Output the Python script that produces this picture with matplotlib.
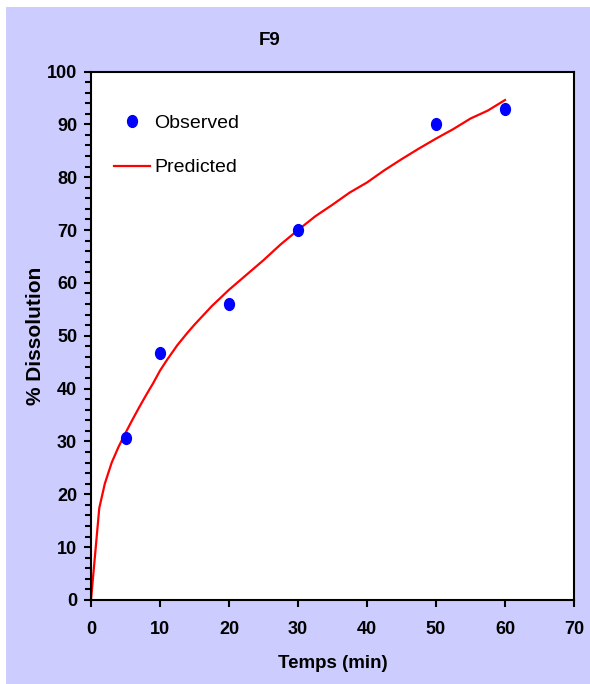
import matplotlib.pyplot as plt
import matplotlib.patches as mpatches
from matplotlib.path import Path
from matplotlib.ticker import MultipleLocator

plt.rcParams['font.family'] = ['Liberation Sans', 'DejaVu Sans']

# observed dissolution (%)
temps_obs = [5, 10, 20, 30, 50, 60]
diss_obs = [30.7, 46.8, 56.0, 70.1, 90.0, 92.9]

# predicted curve
temps_pred = [0, 1.2, 2, 3, 4, 5, 6, 7, 8, 9, 10, 11, 12.5, 14, 15, 17.5, 20, 22.5, 25,
              27.5, 30, 32.5, 35, 37.5, 40, 42.5, 45, 47.5, 50, 52.5, 55, 57.5, 60]
diss_pred = [0, 17.4, 22.0, 26.0, 29.0, 31.6, 34.1, 36.5, 38.8, 41.0, 43.4, 45.4,
             48.2, 50.6, 52.1, 55.6, 58.7, 61.5, 64.3, 67.3, 70.0, 72.6, 74.8, 77.1,
             79.0, 81.3, 83.4, 85.4, 87.3, 89.1, 91.1, 92.6, 94.6]

fig = plt.figure(figsize=(5.9, 6.84), dpi=100)
fig.patch.set_facecolor('white')
# lavender background panel
fig.patches.append(mpatches.Rectangle((6 / 590, 0), 1, 1 - 7 / 684,
                                      transform=fig.transFigure,
                                      facecolor='#CCCCFF', edgecolor='none', zorder=-1))

ax = fig.add_axes([91 / 590, 1 - 600 / 684, 483 / 590, 528.5 / 684])
ax.set_facecolor('white')

# slightly tall ellipse marker
circ = Path.unit_circle()
ellipse = Path(circ.vertices * [1.0, 1.2], circ.codes)

ax.plot(temps_obs, diss_obs, linestyle='none', marker=ellipse, markersize=8.5,
        color='#0000FF', label='Observed', zorder=3)
ax.plot(temps_pred, diss_pred, color='#FF0000', linewidth=1.6, label='Predicted', zorder=2)

ax.set_xlim(0, 70)
ax.set_ylim(0, 100)
ax.xaxis.set_major_locator(MultipleLocator(10))
ax.yaxis.set_major_locator(MultipleLocator(10))
ax.yaxis.set_minor_locator(MultipleLocator(2))

for s in ax.spines.values():
    s.set_linewidth(1.5)
    s.set_color('black')

ax.tick_params(axis='both', which='major', direction='out', length=5, width=1.5,
               labelsize=13)
ax.tick_params(axis='x', pad=10)
ax.tick_params(axis='y', pad=5)
ax.tick_params(axis='y', which='minor', direction='out', length=4, width=1.5)
for lab in ax.get_xticklabels() + ax.get_yticklabels():
    lab.set_fontweight('bold')

ax.set_title('F9', fontsize=13.5, fontweight='bold', pad=19)
ax.title.set_position((0.37, 1.0))
ax.set_xlabel('Temps (min)', fontsize=13.5, fontweight='bold', labelpad=12)
ax.set_ylabel('% Dissolution', fontsize=15, fontweight='bold', labelpad=1)

ax.legend(loc='upper left', bbox_to_anchor=(0.048, 0.919), frameon=False,
          fontsize=14, handlelength=1.85, handletextpad=0.2, labelspacing=1.38,
          borderpad=0, borderaxespad=0)

fig.savefig('out.png', dpi=100, facecolor=fig.get_facecolor())
